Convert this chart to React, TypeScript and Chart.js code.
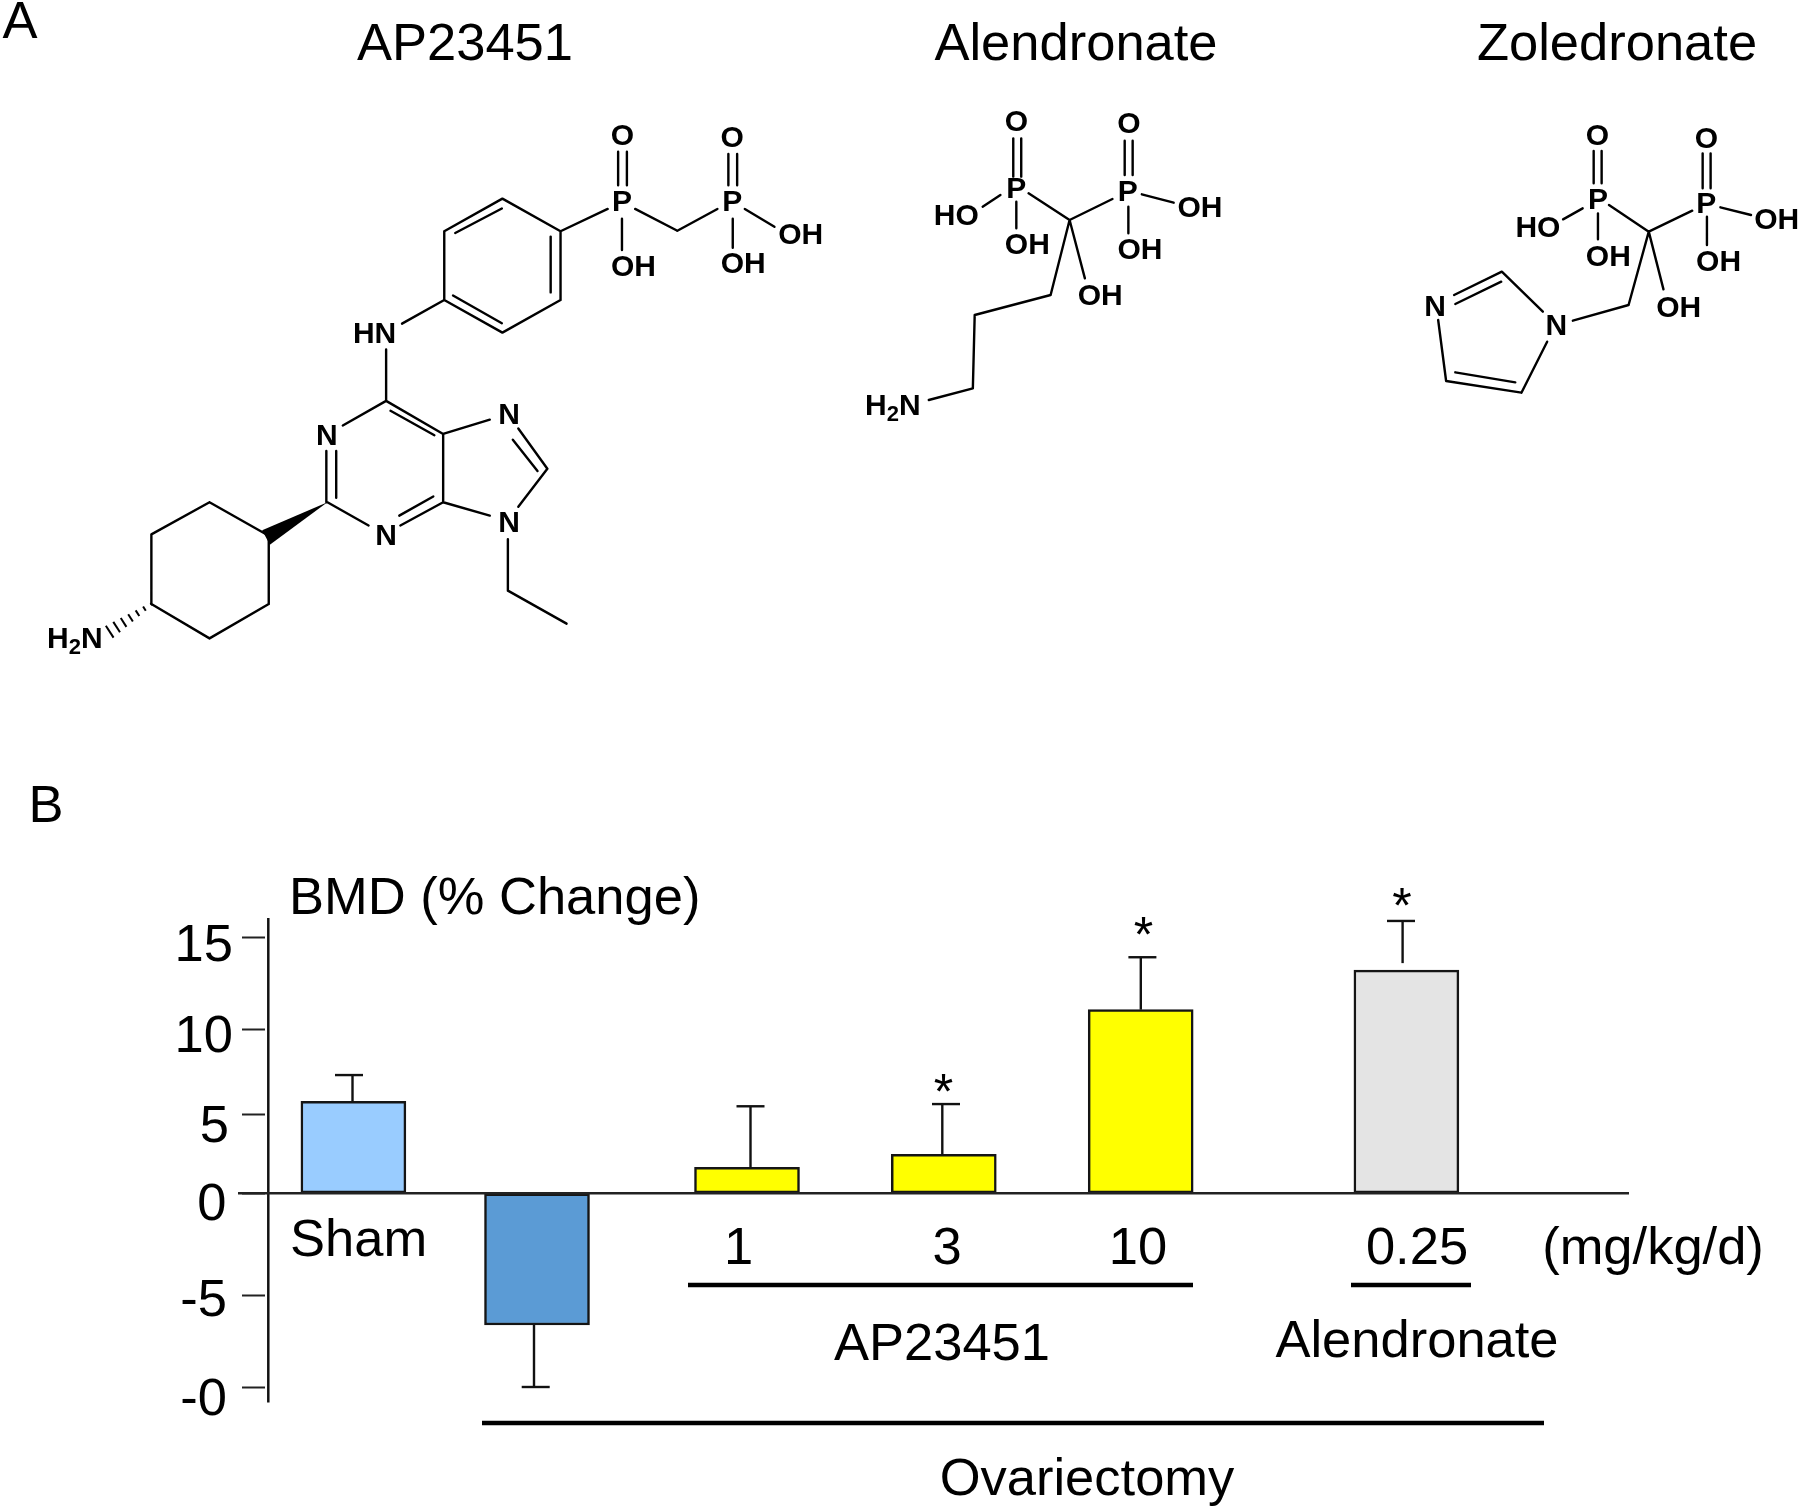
import React, { useEffect, useRef } from "react";
import { Chart, BarController, BarElement, CategoryScale, LinearScale } from "chart.js";

// ---------- data ----------
const categories = ["Sham", "Ovariectomy", "1", "3", "10", "0.25"];
const bmdChange = [5.76, -6.63, 1.65, 2.47, 11.05, 13.2];
const errorEnd = [7.3, -10.0, 5.47, 5.6, 13.9, 15.87];
const significant = [false, false, false, true, true, true];
const yTickValues = [15, 10, 5, 0, -5, -10];
const yTickLabels = ["15", "10", "5", "0", "-5", "-0"];

// ---------- layout and style ----------
const FONT = '"Liberation Sans", Arial, sans-serif';
const barColors = ["#99CCFF", "#5B9BD5", "#FFFF00", "#FFFF00", "#FFFF00", "#E4E4E4"];
const INK = "#151515";
const barCentres = [353.4, 537, 747, 943.8, 1140.7, 1406.4];
const stemX = [352.5, 534, 750.5, 942.3, 1140.8, 1402.6];
const capX = [349, 535.7, 750.5, 946, 1142.4, 1401];
const stemGap = [0, 0, 0, 0, 0, 7];
const starPos: ([number, number] | null)[] = [null, null, null, [943.4, 1093], [1143.5, 936], [1402, 907]];
// the printed axis has unevenly spaced ticks, so the scale follows them piece by piece
const axisValues = [-10.85, -10, -5, 0, 5, 10, 15, 16.03];
const axisPixels = [1402.6, 1387, 1295, 1193.3, 1114.3, 1029, 937, 918];
const tickNudge: Record<string, [number, number]> = {
  "15": [3, 10], "10": [3, 9], "5": [-1, 13.5], "0": [-3.5, 12.5], "-5": [-3, 7], "-10": [-3, 14],
};
const doseLabelPos: [number, number][] = [[358.6, 1256], [0, 0], [738.7, 1264], [947, 1264], [1138, 1264], [1417, 1264]];

class PiecewiseScale extends LinearScale {
  static id = "piecewise";
  static defaults = LinearScale.defaults;
  getPixelForValue(v: number) {
    let i = 0;
    while (i < axisValues.length - 2 && v > axisValues[i + 1]) i++;
    const t = (v - axisValues[i]) / (axisValues[i + 1] - axisValues[i]);
    return axisPixels[i] + t * (axisPixels[i + 1] - axisPixels[i]);
  }
  _computeLabelItems(area: any) {
    const items = (LinearScale.prototype as any)._computeLabelItems.call(this, area);
    items.forEach((it: any, i: number) => {
      const n = tickNudge[String((this as any).ticks[i].value)] || [0, 0];
      it.options.translation = [it.options.translation[0] + n[0], it.options.translation[1] + n[1]];
    });
    return items;
  }
}

class PlacedCategoryScale extends CategoryScale {
  static id = "placedCategory";
  static defaults = CategoryScale.defaults;
  getPixelForValue(v: number) {
    return barCentres[v];
  }
}

Chart.register(BarController, BarElement, CategoryScale, LinearScale, PiecewiseScale, PlacedCategoryScale);

// ---------- chemical structures (in crop coordinates) ----------
type Seg = [number, number, number, number];
type Lab = [string, number, number];

const apBonds: Seg[] = [
  [916, 445, 1022, 518], [1022, 518, 1022, 672], [1022, 672, 916, 745], [916, 745, 810, 672], [810, 672, 810, 518], [810, 518, 916, 445],
  [830, 522, 915, 467], [1004, 530, 1004, 655], [826, 662, 915, 724],
  [1022, 518, 1108, 468], [1127, 340, 1127, 415], [1143, 340, 1143, 415], [1134, 490, 1134, 560],
  [1158, 468, 1235, 517], [1235, 517, 1308, 468], [1328, 345, 1328, 415], [1344, 345, 1344, 415],
  [1336, 490, 1336, 555], [1358, 468, 1412, 508],
  [810, 672, 733, 725], [704, 783, 704, 898],
  [704, 898, 625, 953], [595, 1010, 595, 1125], [613, 1010, 613, 1115], [597, 1125, 672, 1177],
  [730, 1177, 808, 1125], [728, 1155, 790, 1112], [808, 1125, 808, 972], [704, 898, 808, 972], [712, 920, 792, 975],
  [808, 972, 893, 940], [945, 960, 998, 1050], [935, 985, 980, 1055], [998, 1050, 945, 1135], [893, 1155, 808, 1125],
  [926, 1208, 926, 1323], [926, 1323, 1033, 1397],
  [382, 1125, 490, 1200], [490, 1200, 490, 1353], [490, 1353, 382, 1430], [382, 1430, 276, 1353], [276, 1353, 276, 1197], [276, 1197, 382, 1125],
];
const apLabels: Lab[] = [
  ["P", 1134, 452], ["O", 1135, 305], ["OH", 1155, 597], ["P", 1335, 452], ["O", 1335, 308], ["OH", 1355, 590], ["OH", 1460, 525],
  ["HN", 683, 748], ["N", 596, 975], ["N", 704, 1200], ["N", 928, 928], ["N", 928, 1170],
];
const alBonds: Seg[] = [
  [283, 415, 283, 530], [296, 415, 296, 530], [465, 422, 465, 525], [478, 422, 478, 525],
  [262, 585, 233, 620], [288, 605, 288, 685], [308, 580, 375, 660], [375, 660, 445, 597],
  [493, 583, 545, 608], [471, 620, 471, 700], [375, 660, 400, 835], [375, 660, 344, 885],
  [344, 885, 220, 945], [220, 945, 217, 1165], [217, 1165, 145, 1200],
];
const alLabels: Lab[] = [
  ["P", 288, 565], ["P", 470, 575], ["O", 288, 365], ["O", 472, 372], ["HO", 190, 648], ["OH", 306, 735],
  ["OH", 588, 622], ["OH", 490, 750], ["OH", 425, 888],
];
const zoBonds: Seg[] = [
  [1231, 453, 1231, 550], [1244, 453, 1244, 550], [1409, 460, 1409, 565], [1422, 460, 1422, 565],
  [1213, 625, 1181, 658], [1238, 640, 1238, 718], [1256, 615, 1321, 695], [1321, 695, 1392, 632],
  [1438, 622, 1488, 645], [1416, 650, 1416, 735], [1321, 695, 1345, 868], [1321, 695, 1288, 915],
  [1288, 915, 1197, 962], [1148, 935, 1081, 815], [1081, 815, 1003, 885], [1080, 845, 1005, 912],
  [977, 960, 990, 1143], [990, 1143, 1113, 1178], [1005, 1117, 1103, 1147], [1113, 1178, 1155, 1025],
];
const zoLabels: Lab[] = [
  ["P", 1238, 600], ["P", 1415, 610], ["O", 1237, 408], ["O", 1415, 415], ["HO", 1140, 682], ["OH", 1255, 770],
  ["OH", 1530, 660], ["OH", 1435, 785], ["OH", 1370, 922], ["N", 1170, 978], ["N", 972, 920],
];

const apX = (x: number) => (x * 860) / 1568;
const apY = (y: number) => (y * 700) / 1568;
const rtX = (x: number) => 840 + (x * 960) / 1568;
const rtY = (y: number) => y / 3;

function drawStructure(ctx: CanvasRenderingContext2D, bonds: Seg[], labels: Lab[], fx: (n: number) => number, fy: (n: number) => number) {
  ctx.strokeStyle = "#000";
  ctx.lineWidth = 2.4;
  ctx.lineCap = "round";
  ctx.beginPath();
  bonds.forEach(([a, b, c, d]) => {
    ctx.moveTo(fx(a), fy(b));
    ctx.lineTo(fx(c), fy(d));
  });
  ctx.stroke();
  ctx.lineCap = "butt";
  ctx.fillStyle = "#000";
  ctx.font = `bold 30px ${FONT}`;
  ctx.textAlign = "center";
  ctx.textBaseline = "middle";
  labels.forEach(([t, x, y]) => ctx.fillText(t, fx(x), fy(y) + 1));
}

function drawH2N(ctx: CanvasRenderingContext2D, x: number, y: number) {
  ctx.fillStyle = "#000";
  ctx.textBaseline = "alphabetic";
  ctx.textAlign = "left";
  ctx.font = `bold 30px ${FONT}`;
  ctx.fillText("H", x, y);
  ctx.fillText("N", x + 34, y);
  ctx.font = `bold 22px ${FONT}`;
  ctx.fillText("2", x + 21.7, y + 6);
}

function text(ctx: CanvasRenderingContext2D, s: string, x: number, y: number, align: CanvasTextAlign = "center", size = 52.5) {
  ctx.font = `${size}px ${FONT}`;
  ctx.fillStyle = "#000";
  ctx.textAlign = align;
  ctx.textBaseline = "alphabetic";
  ctx.fillText(s, x, y);
}

function rule(ctx: CanvasRenderingContext2D, x1: number, y1: number, x2: number, y2: number, w: number, c = "#000") {
  ctx.strokeStyle = c;
  ctx.lineWidth = w;
  ctx.beginPath();
  ctx.moveTo(x1, y1);
  ctx.lineTo(x2, y2);
  ctx.stroke();
}

const figurePlugin = {
  id: "figure",
  afterDatasetsDraw(chart: any) {
    const ctx: CanvasRenderingContext2D = chart.ctx;
    const y = chart.scales.y;
    ctx.save();
    // axis and baseline
    rule(ctx, 268.3, y.getPixelForValue(16.03), 268.3, y.getPixelForValue(-10.85), 2.5, "#111");
    rule(ctx, 238, y.getPixelForValue(0), 1629, y.getPixelForValue(0), 2.5, "#222");
    // error bars
    bmdChange.forEach((v, i) => {
      const end = y.getPixelForValue(errorEnd[i]);
      const dir = v >= 0 ? 1 : -1;
      const start = y.getPixelForValue(v) - dir * stemGap[i];
      rule(ctx, stemX[i], start, stemX[i], end, 2.4, "#111");
      rule(ctx, capX[i] - 14, end, capX[i] + 14, end, 2.4, "#111");
      const p = starPos[i];
      if (significant[i] && p) text(ctx, "*", p[0], p[1] + 16, "center", 50);
    });
    // dose and group labels
    categories.forEach((c, i) => {
      if (c !== "Ovariectomy") text(ctx, c, doseLabelPos[i][0], doseLabelPos[i][1]);
    });
    text(ctx, "BMD (% Change)", 289, 914, "left");
    text(ctx, "(mg/kg/d)", 1653, 1264);
    rule(ctx, 688, 1285, 1193, 1285, 4.5);
    rule(ctx, 1351, 1285, 1471, 1285, 4.5);
    rule(ctx, 482, 1423, 1544, 1423, 4.5);
    text(ctx, "AP23451", 942, 1360);
    text(ctx, "Alendronate", 1417, 1357);
    text(ctx, "Ovariectomy", 1087, 1495);
    // panel letters and compound names
    text(ctx, "A", 20, 38);
    text(ctx, "B", 46, 822);
    text(ctx, "AP23451", 465, 60);
    text(ctx, "Alendronate", 1076, 60);
    text(ctx, "Zoledronate", 1617, 60);
    // structures
    drawStructure(ctx, apBonds, apLabels, apX, apY);
    drawStructure(ctx, alBonds, alLabels, rtX, rtY);
    drawStructure(ctx, zoBonds, zoLabels, rtX, rtY);
    // wedge and hashed bonds of AP23451
    ctx.fillStyle = "#000";
    ctx.beginPath();
    ctx.moveTo(apX(597), apY(1125));
    ctx.lineTo(apX(478), apY(1188));
    ctx.lineTo(apX(492), apY(1220));
    ctx.closePath();
    ctx.fill();
    const steps = 7;
    for (let k = 0; k < steps; k++) {
      const t = k / (steps - 1);
      const cx = apX(276 - 76 * t);
      const cy = apY(1353 + 62 * t);
      const half = 1.5 + 5.5 * t;
      rule(ctx, cx - half * 0.55, cy - half * 0.85, cx + half * 0.55, cy + half * 0.85, 2);
    }
    drawH2N(ctx, 47, 647.5);
    drawH2N(ctx, 865, 414.5);
    ctx.restore();
  },
};

export default function App() {
  const ref = useRef<HTMLCanvasElement>(null);
  useEffect(() => {
    const chart = new Chart(ref.current as HTMLCanvasElement, {
      type: "bar",
      data: {
        labels: categories,
        datasets: [
          {
            data: bmdChange,
            backgroundColor: barColors,
            borderColor: INK,
            borderWidth: 2.5,
            borderSkipped: false,
            barThickness: 105,
          },
        ],
      },
      options: {
        responsive: false,
        animation: false,
        layout: { padding: { left: 0, top: 918, right: 171, bottom: 105.4 } },
        events: [],
        scales: {
          x: { type: "placedCategory", display: false, grid: { display: false } },
          y: {
            type: "piecewise",
            min: -10.85,
            max: 16.03,
            afterFit: (s: any) => {
              s.width = 265;
            },
            afterBuildTicks: (s: any) => {
              s.ticks = yTickValues.map((value) => ({ value }));
            },
            border: { display: false },
            grid: { drawOnChartArea: false, drawTicks: true, tickLength: 23, tickWidth: 2, tickColor: "#222" },
            ticks: {
              autoSkip: false,
              padding: 12,
              color: "#000",
              font: { family: FONT, size: 52.5 },
              callback: (v: any) => yTickLabels[yTickValues.indexOf(Number(v))],
            },
          },
        },
      } as any,
      plugins: [figurePlugin],
    } as any);
    return () => chart.destroy();
  }, []);
  return (
    <div style={{ position: "absolute", left: 0, top: 0, width: 1800, height: 1508, background: "#fff" }}>
      <canvas ref={ref} width={1800} height={1508} style={{ display: "block" }} />
    </div>
  );
}
